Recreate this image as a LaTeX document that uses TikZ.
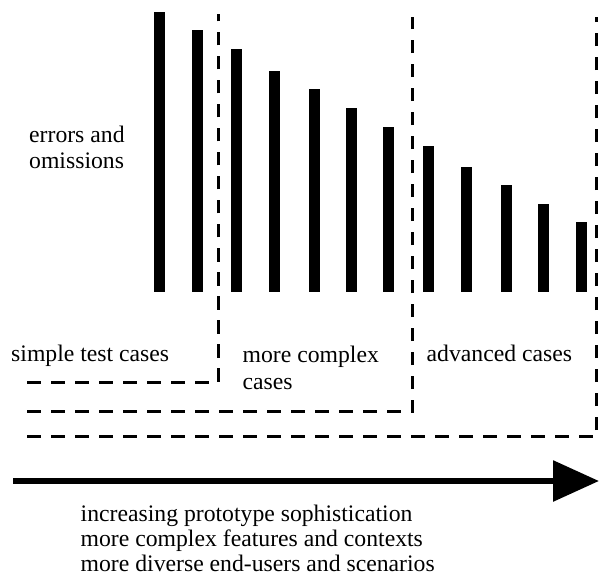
\documentclass[tikz,border=0pt]{standalone}
\usepackage{fontspec}
\setmainfont{Liberation Serif}
\usetikzlibrary{arrows.meta}
\begin{document}
\begin{tikzpicture}[x=1pt,y=-1pt,
  bar/.style={fill=black},
  region/.style={line width=3pt,dash pattern=on 13.5pt off 10.5pt},
  lbl/.style={anchor=base west,inner sep=0pt,font=\fontsize{23.7}{26.7}\selectfont,align=left},
  axis/.style={line width=6pt,-{Triangle[length=46pt,width=40pt]}}]
\useasboundingbox (0,0) rectangle (599,577);
% bars
\foreach \cx/\top in {159.5/12,197/30.5,236.5/49.5,274.5/71,314.5/89,351.5/108,388.5/127,428.5/146,466.5/167,506.5/185,543.5/204,581.5/222}
  \fill[bar] (\cx-5.5,\top) rectangle (\cx+5.5,291.7);
% dashed regions
\coordinate (r1s) at (27,382);
\coordinate (r1c) at (218.5,382);
\coordinate (r1t) at (218.5,14);
\coordinate (r2s) at (27,411.7);
\coordinate (r2c) at (412.5,411.7);
\coordinate (r2t) at (412.5,17);
\coordinate (r3s) at (27,436.7);
\coordinate (r3c) at (596.5,436.7);
\coordinate (r3t) at (596.5,17);
\draw[region] (r1s) -- (r1c) -- (r1t);
\draw[region] (r2s) -- (r2c) -- (r2t);
\draw[region] (r3s) -- (r3c) -- (r3t);
% labels (base anchor = baseline of the last line)
\node[lbl] (err) at (29,169) {errors and\\omissions};
\node[lbl] (simple) at (11,361) {simple test cases};
\node[lbl] (complex) at (242.5,389) {more complex\\cases};
\node[lbl] (adv) at (426.5,361) {advanced cases};
% arrow
\coordinate (a0) at (13,481);
\coordinate (a1) at (599,481);
\draw[axis] (a0) -- (a1);
\node[lbl,font=\fontsize{23.7}{25}\selectfont] (desc) at (80.5,571.5) {increasing prototype sophistication\\more complex features and contexts\\more diverse end-users and scenarios};
\end{tikzpicture}
\end{document}
